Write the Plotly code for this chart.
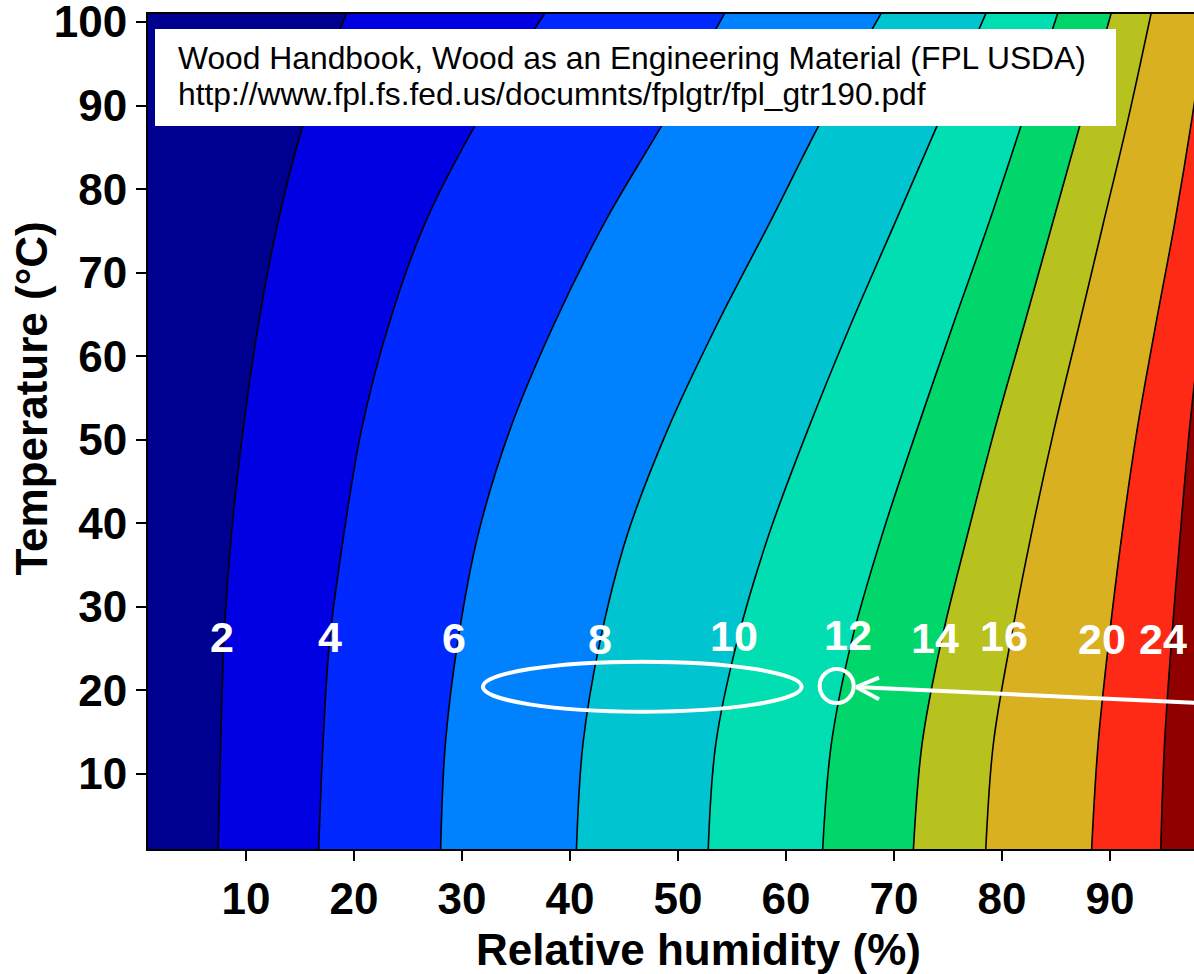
import plotly.graph_objects as go

# ---------------- data ----------------
temperature = [101.0, 88.5, 76.0, 63.5, 51.1, 38.6, 26.0, 13.6, 1.0]
emc_levels = [2, 4, 6, 8, 10, 12, 14, 16, 20, 24]

rh_emc2 = [19.3, 15.5, 12.95, 11.1, 9.72, 8.64, 7.96, 7.65, 7.41]
rh_emc4 = [37.65, 31.6, 26.6, 23.15, 20.68, 19.05, 17.75, 17.13, 16.73]
rh_emc6 = [54.3, 48.9, 43.2, 38.4, 34.41, 31.48, 29.63, 28.46, 28.02]
rh_emc8 = [68.8, 63.4, 58.5, 53.5, 49.0, 45.3, 42.8, 41.2, 40.6]
rh_emc10 = [78.5, 74.3, 70.1, 65.9, 62.0, 58.4, 55.5, 53.5, 52.8]
rh_emc12 = [85.15, 82.0, 78.8, 75.4, 72.1, 68.9, 66.1, 64.2, 63.4]
rh_emc14 = [90.1, 87.4, 84.7, 82.0, 79.3, 76.8, 74.4, 72.6, 71.8]
rh_emc16 = [93.8, 91.7, 89.4, 87.1, 84.8, 82.7, 80.8, 79.2, 78.5]
rh_emc20 = [99.0, 97.6, 96.0, 94.2, 92.5, 91.1, 89.9, 88.9, 88.3]
rh_emc24 = [101.6, 100.5, 99.4, 98.4, 97.35, 96.5, 95.7, 95.05, 94.7]

rh_domain = [0, 100]

band_colors = ["#000090", "#0000E2", "#0028FF", "#0082FF", "#00C4D0",
               "#00DEB2", "#00D66A", "#B8C21E", "#D8B020", "#FF2A15", "#900000"]

label_rh = [7.8, 17.75, 29.3, 42.75, 55.2, 65.7, 73.8, 80.2, 89.3, 94.9]
label_temp = [26.4, 26.4, 26.3, 26.2, 26.5, 26.6, 26.3, 26.5, 26.2, 26.2]

x_ticks = [10, 20, 30, 40, 50, 60, 70, 80, 90]
y_ticks = [10, 20, 30, 40, 50, 60, 70, 80, 90, 100]

# highlight marks (RH range at ~20 C, and 65 % point)
ellipse_rh = [31.94, 61.45]
ellipse_temp = [17.46, 23.45]
circle_rh = [63.12, 66.27]
circle_temp = [18.5, 22.57]
arrow_tail = (99.0, 18.47)
arrow_tip = (66.5, 20.42)
arrow_arm_rh = 68.61
arrow_arm_temp = [21.53, 18.95]

source_line1 = "Wood Handbook, Wood as an Engineering Material (FPL USDA)"
source_line2 = "http://www.fpl.fs.fed.us/documnts/fplgtr/fpl_gtr190.pdf"

# ---------------- figure ----------------
contours = [rh_emc2, rh_emc4, rh_emc6, rh_emc8, rh_emc10, rh_emc12,
            rh_emc14, rh_emc16, rh_emc20, rh_emc24]
left_edge = [rh_domain[0]] * len(temperature)
right_edge = [rh_domain[1]] * len(temperature)
boundaries = [left_edge] + contours + [right_edge]

fig = go.Figure()
SM = 1.0
# filled bands
fig.add_trace(go.Scatter(x=boundaries[0], y=temperature, mode="lines",
                         line=dict(width=0, shape="spline", smoothing=SM),
                         hoverinfo="skip", showlegend=False))
for i in range(1, len(boundaries)):
    fig.add_trace(go.Scatter(x=boundaries[i], y=temperature, mode="lines",
                             line=dict(width=0, shape="spline", smoothing=SM),
                             fill="tonextx", fillcolor=band_colors[i - 1],
                             hoverinfo="skip", showlegend=False))
# contour lines
for c in contours:
    fig.add_trace(go.Scatter(x=c, y=temperature, mode="lines",
                             line=dict(color="black", width=1.6, shape="spline", smoothing=SM),
                             hoverinfo="skip", showlegend=False))

FAM = "Liberation Sans, Arial, sans-serif"
BOLD = dict(family=FAM, size=44, color="black", weight="bold")

axis_common = dict(showgrid=False, zeroline=False, showline=True, mirror=True,
                   linecolor="black", linewidth=2, ticks="outside", ticklen=10,
                   tickwidth=2, tickcolor="black", tickfont=BOLD,
                   ticklabeloverflow="allow", automargin=False)

W, H = 1194, 974
PL, PT, PB_M = 148, 14, 125
fig.update_layout(
    width=W, height=H,
    margin=dict(l=PL, r=0, t=PT, b=PB_M, pad=0),
    paper_bgcolor="white", plot_bgcolor="white",
    showlegend=False,
    xaxis=dict(range=[0.926, 97.78], tickvals=x_ticks, **axis_common),
    yaxis=dict(range=[1.03, 100.96], tickvals=y_ticks, **axis_common),
)

# plot-area pixel helpers (pixel coordinates -> paper fractions)
PW = W - PL
PH = H - PT - PB_M
PBOT = H - PB_M
def px(xp):
    return (xp - PL) / PW
def py(yp):
    return (PBOT - yp) / PH

# contour labels
for lv, xr, yt in zip(emc_levels, label_rh, label_temp):
    fig.add_annotation(x=xr, y=yt, xref="x", yref="y", text=str(lv), showarrow=False,
                       xanchor="center", yanchor="middle",
                       font=dict(family=FAM, size=43, color="white", weight="bold"))

# axis titles
fig.add_annotation(x=px(698.5), y=py(949.5), xref="paper", yref="paper",
                   text="Relative humidity (%)", showarrow=False,
                   xanchor="center", yanchor="middle", font=BOLD)
fig.add_annotation(x=px(31), y=py(398.5), xref="paper", yref="paper",
                   text="Temperature (°C)", showarrow=False, textangle=-90,
                   xanchor="center", yanchor="middle", font=BOLD)

# source box
fig.add_shape(type="rect", xref="paper", yref="paper",
              x0=px(155), x1=px(1116), y0=py(126), y1=py(29),
              fillcolor="white", line=dict(width=0), layer="above")
REG = dict(family=FAM, size=31.8, color="black")
fig.add_annotation(x=px(176), y=py(58), xref="paper", yref="paper",
                   text=source_line1, showarrow=False, xanchor="left", yanchor="middle", font=REG)
fig.add_annotation(x=px(176), y=py(94), xref="paper", yref="paper",
                   text=source_line2, showarrow=False, xanchor="left", yanchor="middle", font=REG)

# highlight ellipse, circle and arrow
WL = dict(color="white", width=4)
fig.add_shape(type="circle", xref="x", yref="y", x0=ellipse_rh[0], x1=ellipse_rh[1],
              y0=ellipse_temp[0], y1=ellipse_temp[1], line=WL, layer="above")
fig.add_shape(type="circle", xref="x", yref="y", x0=circle_rh[0], x1=circle_rh[1],
              y0=circle_temp[0], y1=circle_temp[1], line=WL, layer="above")
fig.add_shape(type="line", xref="x", yref="y", x0=arrow_tail[0], y0=arrow_tail[1],
              x1=arrow_tip[0], y1=arrow_tip[1], line=WL, layer="above")
for yt in arrow_arm_temp:
    fig.add_shape(type="line", xref="x", yref="y", x0=arrow_tip[0], y0=arrow_tip[1],
                  x1=arrow_arm_rh, y1=yt, line=WL, layer="above")

# remove the default page margin so the figure fills the window exactly
fig.write_html("out.html",
               config={"displayModeBar": False},
               post_script="document.body.style.margin='0';"
                           "document.body.style.overflow='hidden';")
